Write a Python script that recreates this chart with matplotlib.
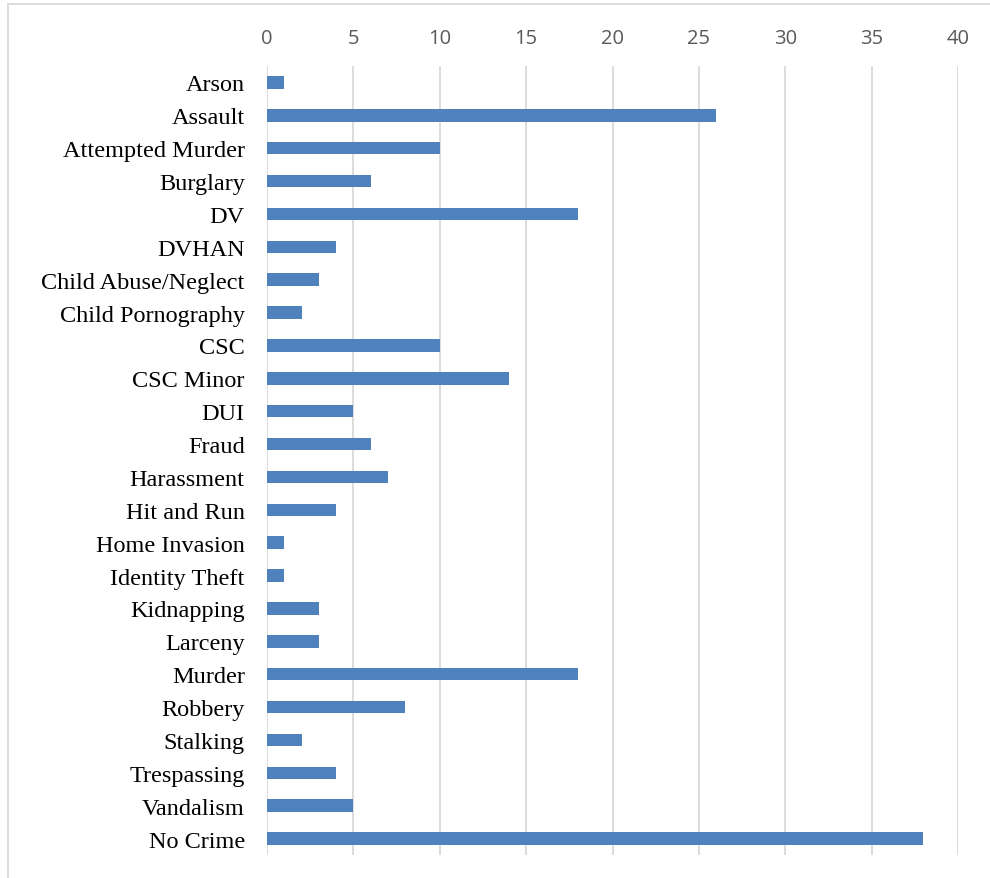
import matplotlib
matplotlib.use("Agg")
import matplotlib.pyplot as plt
from matplotlib.patches import Rectangle

categories = ["Arson", "Assault", "Attempted Murder", "Burglary", "DV", "DVHAN",
              "Child Abuse/Neglect", "Child Pornography", "CSC", "CSC Minor", "DUI",
              "Fraud", "Harassment", "Hit and Run", "Home Invasion", "Identity Theft",
              "Kidnapping", "Larceny", "Murder", "Robbery", "Stalking", "Trespassing",
              "Vandalism", "No Crime"]
counts = [1, 26, 10, 6, 18, 4, 3, 2, 10, 14, 5, 6, 7, 4, 1, 1, 3, 3, 18, 8, 2, 4, 5, 38]
xticks = [0, 5, 10, 15, 20, 25, 30, 35, 40]

fig = plt.figure(figsize=(9.9, 8.79), dpi=100)
ax = fig.add_axes([267 / 990, 1 - 856 / 879, 691 / 990, 789 / 879])

ypos = list(range(len(categories)))
ax.barh(ypos, counts, height=0.38, color="#4F81BD", zorder=3)
ax.set_ylim(len(categories) - 0.5, -0.5)
ax.set_xlim(0, 40)
ax.set_yticks(ypos)
ax.set_yticklabels(categories, fontfamily="Liberation Serif", fontsize=17.5, color="black")
ax.set_xticks(xticks)
ax.set_xticklabels([str(t) for t in xticks], fontfamily="Open Sans", fontsize=14.5, color="#595959")
ax.xaxis.tick_top()
ax.tick_params(axis="x", length=0, pad=13)
ax.tick_params(axis="y", length=0, pad=16)
ax.grid(axis="x", color="#D9D9D9", linewidth=1.3, zorder=0)
for s in ax.spines.values():
    s.set_visible(False)

fig.patches.append(Rectangle((8 / 990, -0.1), 2, 1 - 5 / 879 + 0.1, transform=fig.transFigure,
                             fill=False, edgecolor="#D9D9D9", linewidth=1.3))

fig.savefig("out.png", dpi=100)
